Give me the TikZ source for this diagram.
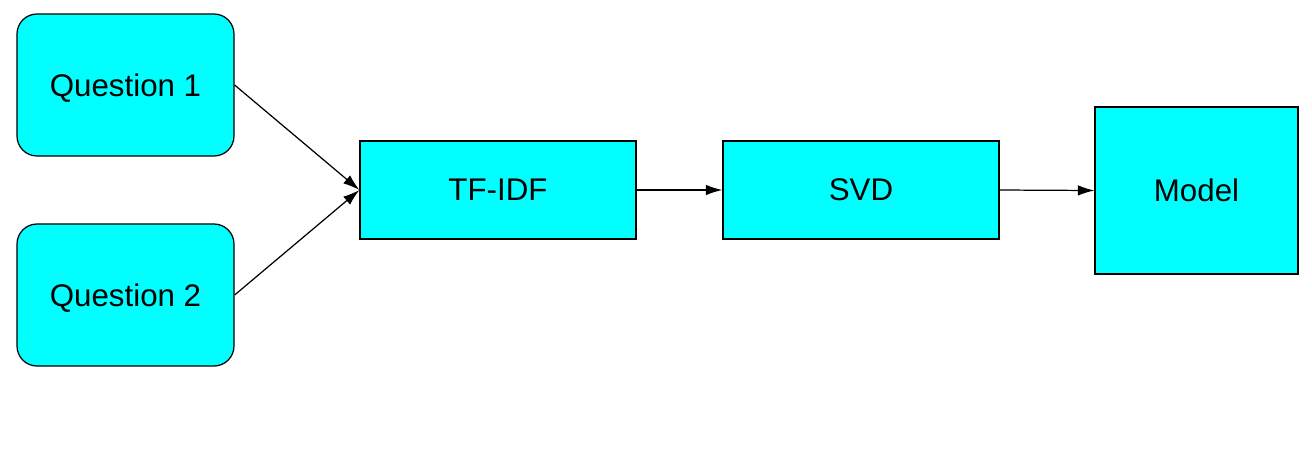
\documentclass[tikz,border=0pt]{standalone}
\usepackage{fontspec}
\setmainfont{Liberation Sans}
\usetikzlibrary{arrows.meta,positioning}
\definecolor{boxcyan}{rgb}{0.00,1.00,1.00}
\tikzset{
  qbox/.style={draw=black, fill=boxcyan, line width=0.7pt, rounded corners=0.4cm,
    minimum width=4.34cm, minimum height=2.84cm, inner sep=0pt, text depth=0pt},
  stagebox/.style={draw=black, fill=boxcyan, line width=0.7pt,
    minimum width=5.52cm, minimum height=1.96cm, inner sep=0pt},
  modelbox/.style={draw=black, fill=boxcyan, line width=0.7pt,
    minimum width=4.06cm, minimum height=3.34cm, inner sep=0pt},
  flow/.style={-{Latex[length=0.33cm,width=0.21cm]}, line width=0.7pt}
}
\begin{document}
\begin{tikzpicture}[every node/.style={font=\fontsize{17.8}{21}\selectfont}]
  \useasboundingbox (0,0) rectangle (26.24,-9.2);

  % inputs
  \node[qbox] (q1) at (2.51,-1.70) {Question 1};
  \node[qbox] (q2) at (2.51,-5.90) {Question 2};

  % pipeline
  \node[stagebox] (tfidf) at (9.96,-3.80) {TF-IDF};
  \node[stagebox] (svd) at (17.22,-3.80) {SVD};
  \node[modelbox] (model) at (23.93,-3.81) {Model};

  % connectors
  \draw[flow] (q1.east) -- (tfidf.west);
  \draw[flow] (q2.east) -- (tfidf.west);
  \draw[flow] (tfidf.east) -- (svd.west);
  \draw[flow] (svd.east) -- (model.west);
\end{tikzpicture}
\end{document}
